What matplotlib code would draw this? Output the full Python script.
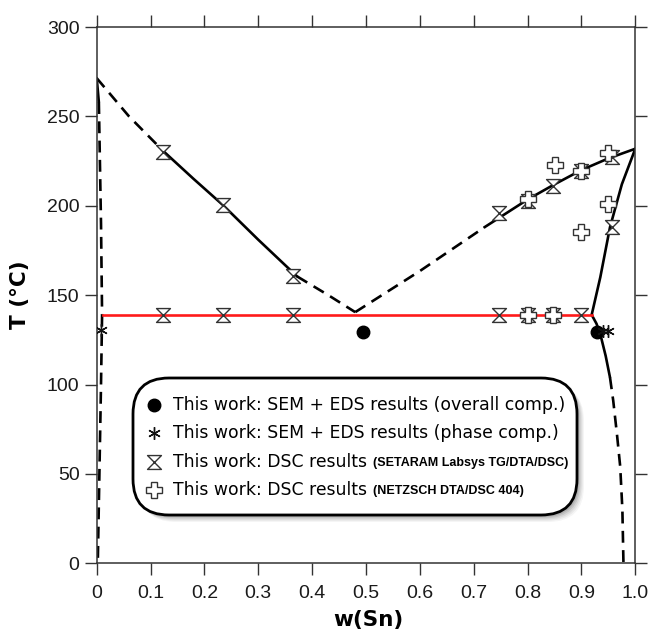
"""
Bi-Sn phase diagram with DSC and SEM/EDS data points.
"""

import matplotlib
matplotlib.use("Agg")
import matplotlib.pyplot as plt
from matplotlib.path import Path
from matplotlib.patches import FancyBboxPatch
from matplotlib.lines import Line2D
from matplotlib.text import Annotation

# ---------------------------------------------------------------------------
# Data
# ---------------------------------------------------------------------------

# Bi-rich liquidus (dashed - solid - dashed)
liq_bi_w = [0.0, 0.06, 0.124, 0.18, 0.234, 0.30, 0.372, 0.43, 0.48]
liq_bi_T = [271.4, 250.0, 230.5, 215.0, 200.5, 181.0, 160.5, 150.0, 140.5]

# Sn-rich liquidus (dashed up to ~0.72, then solid)
liq_sn_w = [0.48, 0.60, 0.72, 0.80, 0.85, 0.90, 0.95, 1.0]
liq_sn_T = [140.5, 163.5, 188.0, 203.5, 212.0, 220.0, 226.5, 231.9]

# Bi-rich solidus / solvus
sol_bi_w = [0.0, 0.004, 0.008, 0.010]
sol_bi_T = [271.4, 258.0, 190.0, 139.0]
solv_bi_w = [0.010, 0.008, 0.005, 0.002]
solv_bi_T = [139.0, 100.0, 50.0, 0.0]

# Sn-rich solidus / solvus
sol_sn_w = [0.919, 0.935, 0.953, 0.975, 1.0]
sol_sn_T = [139.0, 160.0, 188.0, 212.0, 231.9]
solv_sn_w = [0.919, 0.928, 0.936, 0.945, 0.953, 0.959, 0.966, 0.972, 0.976, 0.978]
solv_sn_T = [139.0, 134.0, 127.0, 116.0, 104.0, 91.0, 72.0, 54.0, 30.0, 0.0]

# Eutectic isotherm
eut_w = [0.012, 0.919]
eut_T = [139.0, 139.0]

# SEM + EDS, overall composition
sem_all_w = [0.494, 0.928]
sem_all_T = [129.6, 129.6]

# SEM + EDS, phase composition
sem_ph_w = [0.008, 0.940, 0.950]
sem_ph_T = [130.5, 130.0, 130.0]

# DSC, SETARAM Labsys TG/DTA/DSC
dsc1_w = [0.124, 0.234, 0.365, 0.747, 0.801, 0.848, 0.900,
          0.124, 0.234, 0.365, 0.747, 0.801, 0.848, 0.900, 0.956, 0.956]
dsc1_T = [139.0, 139.0, 139.0, 139.0, 139.0, 139.0, 139.0,
          230.3, 200.5, 160.5, 195.8, 202.4, 210.8, 219.2, 227.5, 188.4]

# DSC, NETZSCH DTA/DSC 404
dsc2_w = [0.801, 0.848, 0.801, 0.851, 0.900, 0.950, 0.950, 0.900]
dsc2_T = [139.0, 139.0, 204.0, 222.9, 219.5, 229.4, 201.0, 185.6]

legend_labels = [
    ("This work: SEM + EDS results (overall comp.)", ""),
    ("This work: SEM + EDS results (phase comp.)", ""),
    ("This work: DSC results", "(SETARAM Labsys TG/DTA/DSC)"),
    ("This work: DSC results", "(NETZSCH DTA/DSC 404)"),
]

x_ticks = [0, 0.1, 0.2, 0.3, 0.4, 0.5, 0.6, 0.7, 0.8, 0.9, 1.0]
x_tick_labels = ["0", "0.1", "0.2", "0.3", "0.4", "0.5", "0.6", "0.7", "0.8", "0.9", "1.0"]
y_ticks = [0, 50, 100, 150, 200, 250, 300]

# ---------------------------------------------------------------------------
# Styles
# ---------------------------------------------------------------------------

HOURGLASS = Path([(-1, 1), (1, 1), (-1, -1), (1, -1), (-1, 1)],
                 [Path.MOVETO, Path.LINETO, Path.LINETO, Path.LINETO, Path.CLOSEPOLY])

LW = 1.9
DASH = (4.5, 2.8)

solid = dict(color="black", lw=LW, solid_capstyle="round")
dashed = dict(color="black", lw=LW, dashes=DASH)

mk_circle = dict(marker="o", ms=9, mfc="black", mec="black", ls="none")
mk_star = dict(marker=(6, 2, 0), ms=9, mec="#111111", mew=1.0, ls="none")
mk_hour = dict(marker=HOURGLASS, ms=10, mfc="white", mec="#333333", mew=1.0, ls="none")
mk_cross = dict(marker="P", ms=11, mfc="white", mec="#333333", mew=1.0, ls="none")

# ---------------------------------------------------------------------------
# Figure
# ---------------------------------------------------------------------------

fig = plt.figure(figsize=(6.49, 6.34), dpi=100)
ax = fig.add_axes([0.149, 0.1115, 0.8299, 0.8459])

# liquidus
ax.plot(liq_bi_w[:3], liq_bi_T[:3], **dashed)
ax.plot(liq_bi_w[2:7], liq_bi_T[2:7], **solid)
ax.plot(liq_bi_w[6:], liq_bi_T[6:], **dashed)
ax.plot(liq_sn_w[:3], liq_sn_T[:3], **dashed)
ax.plot(liq_sn_w[2:], liq_sn_T[2:], **solid)

# solidus / solvus
ax.plot(sol_bi_w[:2], sol_bi_T[:2], **solid)
ax.plot(sol_bi_w[1:], sol_bi_T[1:], **dashed)
ax.plot(solv_bi_w, solv_bi_T, **dashed)
ax.plot(sol_sn_w, sol_sn_T, **solid)
ax.plot(solv_sn_w[:5], solv_sn_T[:5], **solid)
ax.plot(solv_sn_w[4:], solv_sn_T[4:], **dashed)

# eutectic line
ax.plot(eut_w, eut_T, color="#ff1a1a", lw=1.9, zorder=2)

# experimental points
ax.plot(dsc1_w, dsc1_T, zorder=3, **mk_hour)
ax.plot(dsc2_w, dsc2_T, zorder=4, **mk_cross)
ax.plot(sem_all_w, sem_all_T, zorder=5, **mk_circle)
ax.plot(sem_ph_w, sem_ph_T, zorder=6, **mk_star)

ax.set_xlim(0, 1.0)
ax.set_ylim(0, 300)
ax.set_xticks(x_ticks)
ax.set_xticklabels(x_tick_labels)
ax.set_yticks(y_ticks)

for lab in ax.get_xticklabels() + ax.get_yticklabels():
    lab.set_fontfamily("Liberation Sans")
    lab.set_fontsize(14)
    lab.set_color("#1a1a1a")

ax.tick_params(direction="out", length=8.3, width=1.0, color="#333333",
               top=True, right=True, labeltop=False, labelright=False)
ax.tick_params(axis="x", pad=7)
ax.tick_params(axis="y", pad=4)
for sp in ax.spines.values():
    sp.set_linewidth(1.1)
    sp.set_color("#333333")

fig.text(20 / 649, 1 - 295 / 634, "T (°C)", rotation=90, ha="center", va="center",
         fontsize=15.5, fontweight="bold", family="DejaVu Sans")
fig.text(368 / 649, 1 - 620 / 634, "w(Sn)", ha="center", va="center",
         fontsize=15.5, fontweight="bold", family="DejaVu Sans")

# ---------------------------------------------------------------------------
# Rounded legend box with soft shadow (inch coordinates)
# ---------------------------------------------------------------------------

tr = fig.dpi_scale_trans
bx, by, bw, bh = 1.33, 1.19, 4.44, 1.37
for i, a in enumerate([0.06, 0.08, 0.10, 0.14, 0.18]):
    off = 0.07 - i * 0.012
    shadow = FancyBboxPatch((bx + off, by - off), bw, bh,
                            boxstyle="round,pad=0,rounding_size=0.36",
                            transform=tr, fc="#555555", ec="none", alpha=a,
                            zorder=8)
    fig.add_artist(shadow)
box = FancyBboxPatch((bx, by), bw, bh, boxstyle="round,pad=0,rounding_size=0.36",
                     transform=tr, fc="white", ec="black", lw=2.0, zorder=9)
fig.add_artist(box)

row_y = [2.29, 2.01, 1.72, 1.44]
markers = [mk_circle, mk_star, mk_hour, mk_cross]
for y, mk, (main, small) in zip(row_y, markers, legend_labels):
    fig.add_artist(Line2D([1.54], [y], transform=tr, zorder=10, **mk))
    t = fig.text(1.73, y, main, transform=tr, ha="left", va="center",
                 fontsize=12.4, family="DejaVu Sans", zorder=10)
    if small:
        note = Annotation(small, xy=(1, 0.5), xycoords=t, xytext=(4, -1),
                          textcoords="offset points", ha="left", va="center",
                          fontsize=9, fontweight="bold",
                          family=["Liberation Sans Narrow", "Liberation Sans"],
                          annotation_clip=False, zorder=10)
        fig.add_artist(note)

fig.savefig("out.png", dpi=100)
